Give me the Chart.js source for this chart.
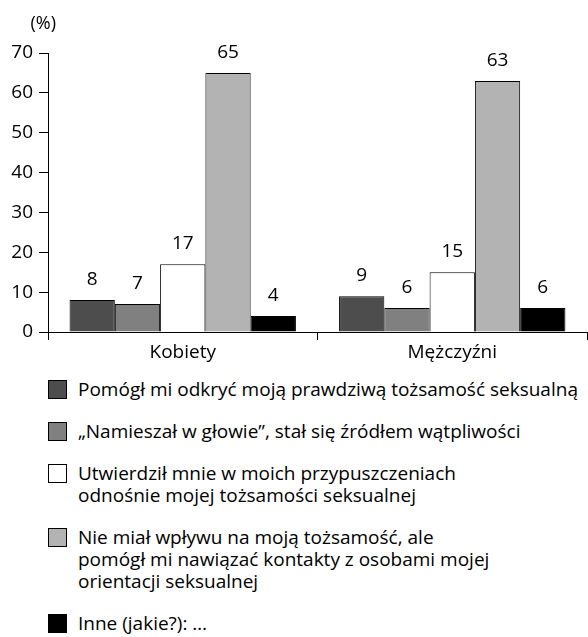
<!DOCTYPE html>
<html>
<head>
<meta charset="utf-8">
<script src="https://cdn.jsdelivr.net/npm/chart.js@4.4.0/dist/chart.umd.min.js"></script>
<style>
body { margin: 0; background: #fff; font-family: "Open Sans", sans-serif; }
#wrap { position: relative; width: 588px; height: 637px; overflow: hidden; }
#chartBox { position: absolute; left: 0; top: 0; width: 588px; height: 372px; }
#legend { position: absolute; left: 48px; top: 378px; margin: 0; padding: 0; list-style: none; }
#legend li { display: flex; align-items: flex-start; margin-bottom: 20px; }
#legend .box { width: 17px; height: 17px; border: 1px solid #000; margin-right: 11px; flex: none; margin-top: 2px; }
#legend .txt { font-size: 19px; line-height: 22px; color: #000; white-space: pre-line; }
</style>
</head>
<body>
<div id="wrap">
  <div id="chartBox"><canvas id="myBarChart"></canvas></div>
  <ul id="legend"></ul>
</div>
<script>
// kategorie
const categories = ["Kobiety", "Mężczyźni"];
// nazwy serii (legenda)
const seriesNames = [
    "Pomógł mi odkryć moją prawdziwą tożsamość seksualną",
    "„Namieszał w głowie”, stał się źródłem wątpliwości",
    "Utwierdził mnie w moich przypuszczeniach\nodnośnie mojej tożsamości seksualnej",
    "Nie miał wpływu na moją tożsamość, ale\npomógł mi nawiązać kontakty z osobami mojej\norientacji seksualnej",
    "Inne (jakie?): …"
];
// wartości (%)
const pomogl = [8, 9];
const namieszal = [7, 6];
const utwierdzil = [17, 15];
const bezWplywu = [65, 63];
const inne = [4, 6];
// oś Y
const yMin = 0;
const yMax = 70;
const yStep = 10;

const seriesValues = [pomogl, namieszal, utwierdzil, bezWplywu, inne];
const seriesColors = ["#4d4d4d", "#808080", "#ffffff", "#b3b3b3", "#000000"];

// liczby nad słupkami + "(%)"
const valueLabels = {
    id: "valueLabels",
    afterDatasetsDraw(chart) {
        const c = chart.ctx;
        c.save();
        c.font = '19px "Open Sans"';
        c.fillStyle = "#000";
        c.textAlign = "center";
        c.textBaseline = "alphabetic";
        chart.data.datasets.forEach((ds, i) => {
            chart.getDatasetMeta(i).data.forEach((bar, j) => {
                c.fillText(ds.data[j], bar.x, bar.y - 15);
            });
        });
        c.textAlign = "right";
        c.textBaseline = "middle";
        c.font = '18px "Open Sans"';
        c.fillText("(%)", 56, 24);
        c.restore();
    }
};

// legenda w HTML
const htmlLegend = {
    id: "htmlLegend",
    afterUpdate(chart) {
        const ul = document.getElementById("legend");
        ul.innerHTML = "";
        chart.data.datasets.forEach(ds => {
            const li = document.createElement("li");
            const box = document.createElement("span");
            box.className = "box";
            box.style.background = ds.backgroundColor;
            const txt = document.createElement("span");
            txt.className = "txt";
            txt.textContent = ds.label;
            li.appendChild(box);
            li.appendChild(txt);
            ul.appendChild(li);
        });
    }
};

var ctx = document.getElementById("myBarChart");
var myBarChart = new Chart(ctx, {
    type: "bar",
    data: {
        labels: categories,
        datasets: seriesNames.map((name, i) => ({
            label: name,
            data: seriesValues[i],
            backgroundColor: seriesColors[i],
            borderColor: "#000",
            borderWidth: 1,
            barPercentage: 1,
            categoryPercentage: 0.84
        }))
    },
    options: {
        responsive: true,
        maintainAspectRatio: false,
        animation: false,
        layout: { padding: { left: 0, right: 1, top: 53, bottom: 0 } },
        plugins: {
            legend: { display: false },
            tooltip: { enabled: false }
        },
        scales: {
            x: {
                afterFit(scale) { scale.height = 40; },
                grid: { drawOnChartArea: false, tickLength: 8, color: "#000", offset: true },
                border: { color: "#000", width: 1 },
                ticks: { color: "#000", font: { family: "Open Sans", size: 19 }, padding: 1 }
            },
            y: {
                min: yMin,
                max: yMax,
                afterFit(scale) { scale.width = 48; },
                grid: { drawOnChartArea: false, tickLength: 9, color: "#000" },
                border: { color: "#000", width: 1 },
                ticks: { stepSize: yStep, color: "#000", font: { family: "Open Sans", size: 19 }, padding: 6 }
            }
        }
    },
    plugins: [valueLabels, htmlLegend]
});
</script>
</body>
</html>
